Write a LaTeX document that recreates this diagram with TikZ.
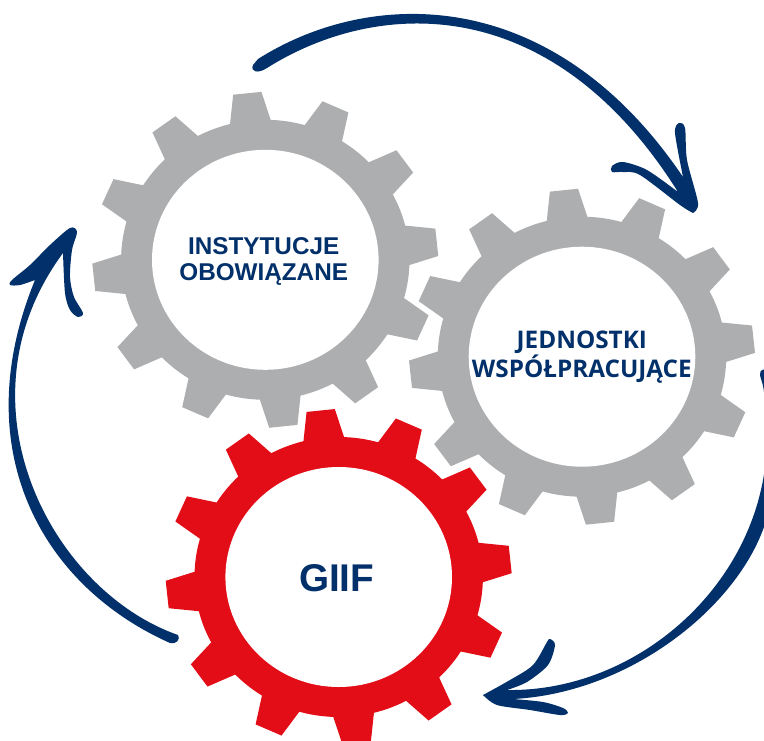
\documentclass[tikz,border=0pt]{standalone}
\usepackage{fontspec}
\usepackage{tikz}
\newfontfamily\arialfont{Liberation Sans}
\newfontfamily\opensfont{Open Sans}
\definecolor{gearblue}{HTML}{02306A}
\definecolor{geargray}{HTML}{ADAEB0}
\definecolor{gearred}{HTML}{E30D18}
\tikzset{
	gearlabel/.style={text=gearblue,align=center,inner sep=0pt,anchor=base},
	sweep/.style={fill=gearblue,line join=round}
}
\newcommand{\gearwheel}[3]{
	\begin{scope}[shift={(#1,#2)},xscale=1.03]
		\fill[#3] (0,0) circle [radius=140];
		\foreach \a in {-6,24,...,324}{
			\fill[#3] (\a-8.3:139) -- (\a-4.7:168) -- (\a+4.7:168) -- (\a+8.3:139) -- cycle;
		}
		\fill[white] (0,0) circle [radius=110];
	\end{scope}
}
\begin{document}
\begin{tikzpicture}[x=0.75pt,y=-0.75pt]
	\useasboundingbox (0,0) rectangle (764,740);
	\clip (0,0) rectangle (764,740);

	\gearwheel{265.3}{259.8}{geargray}
	\gearwheel{582}{356.7}{geargray}
	\gearwheel{338.7}{577}{gearred}

	\node (instytucje) [gearlabel,font=\arialfont\bfseries\fontsize{18.2pt}{19.5pt}\selectfont] at (263.7,280) {INSTYTUCJE\\OBOWIĄZANE};
	\node (jednostki) [gearlabel,font=\opensfont\bfseries\fontsize{18.2pt}{19.2pt}\selectfont] at (581.8,377.3) {JEDNOSTKI\\WSPÓŁPRACUJĄCE};
	\node (giif) [gearlabel,font=\arialfont\bfseries\fontsize{29pt}{30pt}\selectfont] at (336.7,591) {GIIF};

	% top arrow
	\fill[sweep] (258,59) .. controls (370,-12) and (552,-17) .. (683,177)
		-- plot[smooth] coordinates {(683,177) (675,133) (679,123) (685,128) (687,160) (698,203) (693,213)}
		-- plot[smooth] coordinates {(693,213) (680,205) (640,175) (623,172) (612,172) (612,166) (623,162) (647,170) (678,192)}
		.. controls (550,-12) and (375,0) .. (267,68)
		.. controls (258,74) and (250,72) .. (253,65) -- cycle;

	% left arrow
	\fill[sweep] (170,643) .. controls (40,585) and (-34,448) .. (35,280)
		-- plot[smooth] coordinates {(35,280) (20,285) (10,285) (12,280) (30,265) (50,245) (70,228) (77,232) (72,250) (70,277) (74,297) (83,313) (78,317) (70,310) (65,293) (63,253)}
		.. controls (-47,402) and (50,590) .. (178,635)
		.. controls (181,639) and (176,645) .. (170,643) -- cycle;

	% right arrow
	\fill[sweep] (767,440) .. controls (765,580) and (640,692) .. (507,690)
		-- plot[smooth] coordinates {(507,690) (527,682) (548,665) (555,645) (550,639) (547,642) (533,665) (510,680) (483,695)}
		-- plot[smooth] coordinates {(483,695) (497,705) (530,710) (560,715) (568,713) (563,708) (543,702) (513,699)}
		.. controls (650,692) and (775,575) .. (772,480)
		-- plot[smooth] coordinates {(772,480) (782,450) (776,400) (768,372) (762,370) (760,375) (764,392) (767,440)} -- cycle;
\end{tikzpicture}
\end{document}
